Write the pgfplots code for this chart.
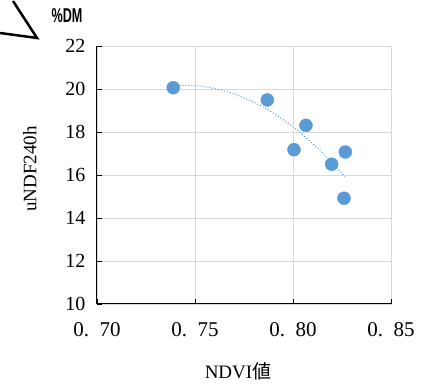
\documentclass[border=0pt]{standalone}
\usepackage{pgfplots}
\pgfplotsset{compat=1.18}
\usepackage{fontspec}
\setmainfont{Liberation Serif}
\newfontfamily\cjk{Noto Sans CJK JP}
\newfontfamily\narrowsans{Liberation Sans}
\definecolor{ptblue}{RGB}{91,155,213}
\begin{document}
\begin{tikzpicture}[x=1pt,y=1pt]
\useasboundingbox (-97,-81) rectangle (326,304);
\begin{axis}[
  at={(0,0)}, anchor=south west,
  scale only axis, width=294pt, height=258pt,
  xmin=0.70, xmax=0.85, ymin=10, ymax=22,
  xtick={0.70,0.75,0.80,0.85},
  xticklabels={0.\enspace70,0.\enspace75,0.\enspace80,0.\enspace85},
  ytick={10,12,14,16,18,20,22},
  axis lines=left,
  axis line style={black, line width=1pt, -},
  tick align=inside,
  major tick length=5pt,
  tick style={black, line width=0.8pt},
  grid=major,
  major grid style={gray!30, line width=0.8pt},
  yticklabel style={xshift=-8pt, font=\fontsize{20}{20}\selectfont},
  xticklabel style={yshift=-15pt, font=\fontsize{21}{21}\selectfont},
  /pgf/number format/assume math mode=true,
  ylabel={uNDF240h},
  ylabel style={at={(axis description cs:0,0.5)}, anchor=center, yshift=67pt, xshift=6pt, font=\fontsize{19}{19}\selectfont},
  xlabel={NDVI{\cjk 値}},
  xlabel style={at={(axis description cs:0.5,0)}, anchor=center, yshift=-67pt, xshift=-6pt, font=\fontsize{19}{19}\selectfont},
  clip=false,
]
\addplot[ptblue, dotted, line width=1pt, smooth] coordinates {
  (0.739,20.15) (0.745,20.17) (0.755,20.11) (0.765,19.91) (0.775,19.59)
  (0.785,19.15) (0.795,18.57) (0.805,17.87) (0.815,17.03) (0.8265,15.92)
};
\addplot[only marks, mark=*, mark size=6.5pt, mark options={fill=ptblue, draw=ptblue}] coordinates {
  (0.7389,20.06) (0.7869,19.49) (0.8066,18.31) (0.8005,17.18)
  (0.8197,16.50) (0.8267,17.07) (0.8260,14.92)
};
\node[font=\narrowsans\bfseries\fontsize{20}{20}\selectfont, anchor=center] at (rel axis cs:0,1) [xshift=-30pt, yshift=30pt] {\scalebox{0.63}[1]{\%DM}};
\end{axis}
\draw[black, line width=2.5pt] (-84,303) -- (-60,266) -- (-97,271);
\end{tikzpicture}
\end{document}
